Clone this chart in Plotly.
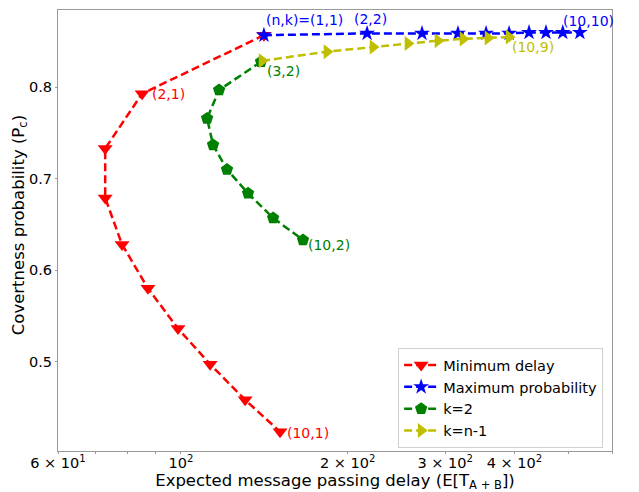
import numpy as np
import plotly.graph_objects as go

# ---- data ----
min_delay_x = [141.2, 85.1, 73.0, 73.0, 78.3, 87.2, 98.8, 112.9, 130.6, 151.0]
min_delay_y = [0.857, 0.793, 0.733, 0.679, 0.628, 0.580, 0.536, 0.497, 0.458, 0.423]

max_prob_x = [141.2, 216.8, 272.4, 316.3, 355.5, 391.2, 425.0, 456.0, 489.0, 525.0]
max_prob_y = [0.857, 0.859, 0.859, 0.859, 0.859, 0.859, 0.860, 0.860, 0.860, 0.860]

k2_x = [139.5, 117.2, 111.5, 114.3, 121.1, 132.2, 146.7, 166.1]
k2_y = [0.828, 0.797, 0.766, 0.737, 0.710, 0.684, 0.657, 0.633]

knm1_x = [140.1, 183.5, 222.2, 256.9, 291.1, 323.0, 358.4, 391.2]
knm1_y = [0.829, 0.839, 0.844, 0.848, 0.851, 0.853, 0.854, 0.855]

x_tick_vals = [60, 100, 200, 300, 400, 600]
x_tick_text = ["6 × 10<sup>1</sup>", "10<sup>2</sup>", "2 × 10<sup>2</sup>",
               "3 × 10<sup>2</sup>", "4 × 10<sup>2</sup>", "6 × 10<sup>2</sup>"]
x_minor_vals = [70, 80, 90, 500]
y_tick_vals = [0.5, 0.6, 0.7, 0.8]
y_tick_text = ["0.5", "0.6", "0.7", "0.8"]

FONT = "DejaVu Sans"
RED, BLUE, GREEN, YEL = "#ff0000", "#0000ff", "#008000", "#bfbf00"
DASH = "8px,4px"

fig = go.Figure()
fig.add_trace(go.Scatter(x=min_delay_x, y=min_delay_y, mode="lines+markers",
                         name="Minimum delay",
                         line=dict(color=RED, width=2.5, dash=DASH),
                         marker=dict(symbol="triangle-down", size=13, color=RED)))
fig.add_trace(go.Scatter(x=max_prob_x, y=max_prob_y, mode="lines+markers",
                         name="Maximum probability",
                         line=dict(color=BLUE, width=2.5, dash=DASH),
                         marker=dict(symbol="star", size=12, color=BLUE)))
fig.add_trace(go.Scatter(x=k2_x, y=k2_y, mode="lines+markers",
                         name="k=2",
                         line=dict(color=GREEN, width=2.5, dash=DASH),
                         marker=dict(symbol="pentagon", size=13, color=GREEN)))
fig.add_trace(go.Scatter(x=knm1_x, y=knm1_y, mode="lines+markers",
                         name="k=n-1",
                         line=dict(color=YEL, width=2.5, dash=DASH),
                         marker=dict(symbol="triangle-right", size=13, color=YEL)))

def ann(x, y, text, color, xanchor, xshift, yshift):
    fig.add_annotation(x=np.log10(x), y=y, text=text, showarrow=False,
                       font=dict(family=FONT, size=14, color=color),
                       xanchor=xanchor, yanchor="middle",
                       xshift=xshift, yshift=yshift)

ann(max_prob_x[0], max_prob_y[0], "(n,k)=(1,1)", BLUE, "left", 0, 15)
ann(max_prob_x[1], max_prob_y[1], "(2,2)", BLUE, "center", 3, 14)
ann(max_prob_x[-1], max_prob_y[-1], "(10,10)", BLUE, "left", -19, 11)
ann(knm1_x[-1], knm1_y[-1], "(10,9)", YEL, "left", 1, -10)
ann(min_delay_x[1], min_delay_y[1], "(2,1)", RED, "left", 8, 0)
ann(k2_x[0], k2_y[0], "(3,2)", GREEN, "left", 4, -9)
ann(k2_x[-1], k2_y[-1], "(10,2)", GREEN, "left", 3, -5)
ann(min_delay_x[-1], min_delay_y[-1], "(10,1)", RED, "left", 5, -1)

# y-axis title placed as a paper annotation for exact placement
fig.add_annotation(xref="paper", yref="paper", x=-0.0704, y=0.512,
                   text="Covertness probability (P<sub>c</sub>)", textangle=-90,
                   showarrow=False, xanchor="center", yanchor="middle",
                   font=dict(family=FONT, size=16.5, color="black"))

fig.update_layout(
    width=639, height=492,
    margin=dict(l=58, r=27, t=10, b=41),
    paper_bgcolor="white", plot_bgcolor="white",
    font=dict(family=FONT, size=14, color="black"),
    showlegend=True,
    legend=dict(x=0.984, y=0.12, xanchor="right", yanchor="middle",
                bgcolor="white", bordercolor="#d0d0d0", borderwidth=1,
                font=dict(family=FONT, size=14.5), itemwidth=34,
                tracegroupgap=0),
)
fig.update_xaxes(type="log", range=[np.log10(60), np.log10(600)],
                 automargin=False,
                 tickvals=x_tick_vals, ticktext=x_tick_text,
                 ticks="outside", ticklen=2, tickcolor="#999999",
                 ticklabelstandoff=-3,
                 showline=True, linecolor="#999999", linewidth=1, mirror=True,
                 showgrid=False, zeroline=False,
                 tickfont=dict(family=FONT, size=14.5),
                 minor=dict(tickvals=x_minor_vals, ticks="outside", ticklen=2,
                            tickcolor="#999999", showgrid=False),
                 title=dict(text="Expected message passing delay (E[T<sub>A + B</sub>])",
                            font=dict(family=FONT, size=16.5), standoff=2))
fig.update_yaxes(range=[0.402, 0.8846],
                 automargin=False,
                 tickvals=y_tick_vals, ticktext=y_tick_text,
                 ticks="outside", ticklen=2, tickcolor="#999999",
                 showline=True, linecolor="#999999", linewidth=1, mirror=True,
                 showgrid=False, zeroline=False,
                 tickfont=dict(family=FONT, size=14.5))

fig.write_html("out.html", config={"displayModeBar": False})

# remove the default page margin so the figure sits at the window's top-left
with open("out.html", "r", encoding="utf-8") as f:
    html = f.read()
html = html.replace("<head>", "<head><style>html,body{margin:0;padding:0;overflow:hidden;}</style>", 1)
with open("out.html", "w", encoding="utf-8") as f:
    f.write(html)
